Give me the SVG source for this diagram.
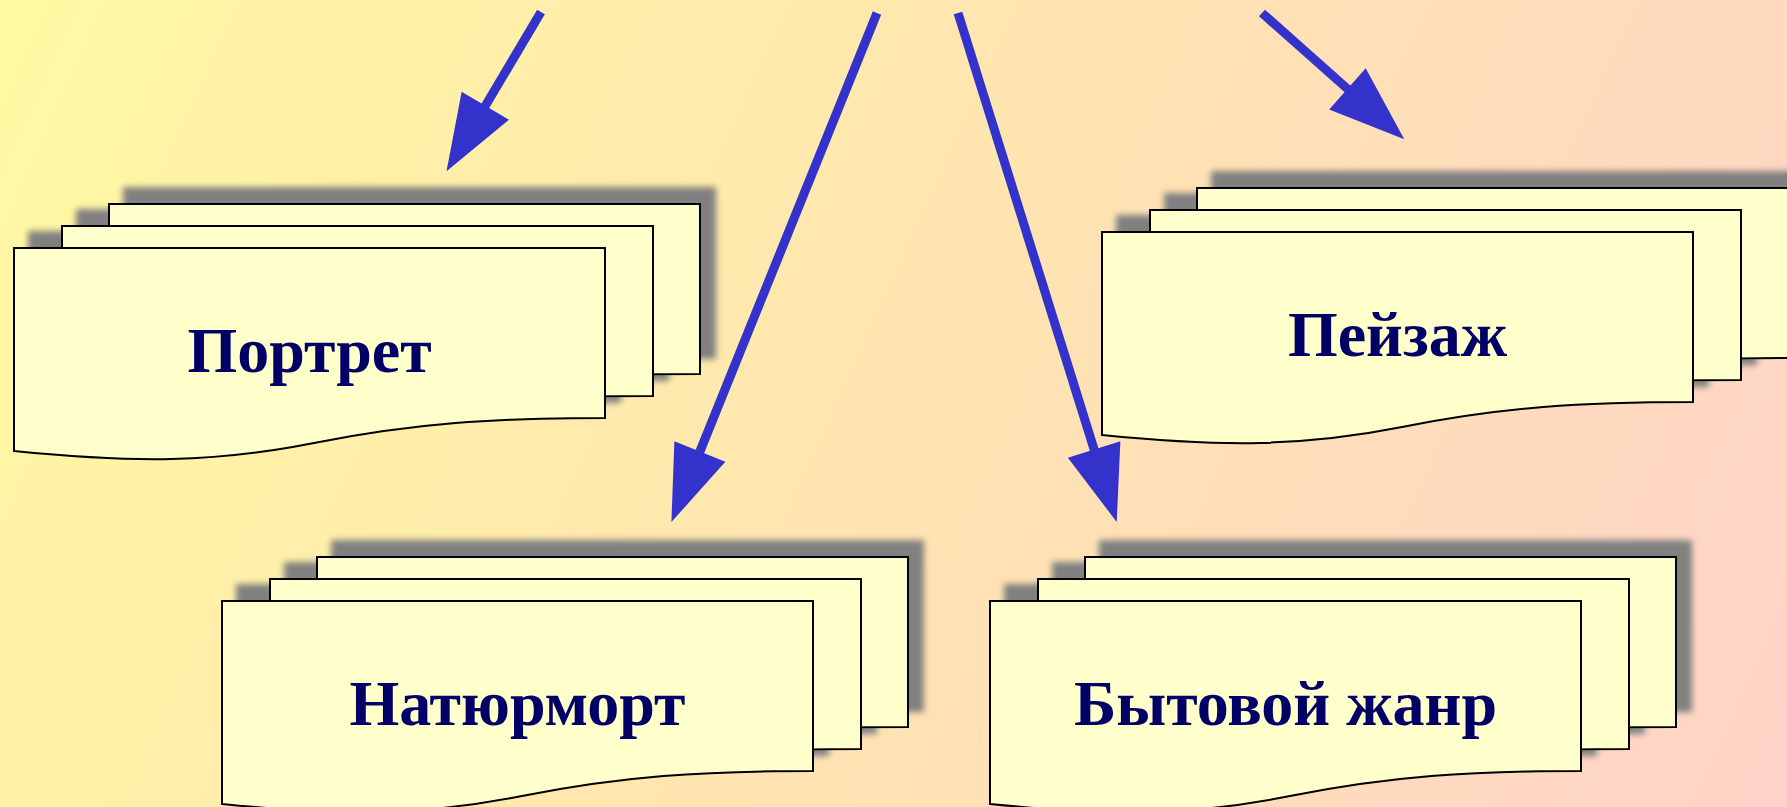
<svg xmlns="http://www.w3.org/2000/svg" xmlns:xlink="http://www.w3.org/1999/xlink" width="1787" height="807" viewBox="0 0 1787 807">
<style>
.sheet{fill:#FFFFCC;stroke:#000000;stroke-width:2;stroke-linejoin:miter}
.label{font-family:"Liberation Serif","Times New Roman",serif;font-weight:bold;font-size:64px;fill:#000066;text-anchor:middle}
.conn{stroke:#3333CC;stroke-width:9;fill:none;stroke-linecap:butt;marker-end:url(#ah)}
</style>
<defs>
<linearGradient id="bg" gradientUnits="userSpaceOnUse" x1="0" y1="0" x2="1787" y2="807">
<stop offset="0" stop-color="#FFF9A2"/>
<stop offset="0.5" stop-color="#FFE5B0"/>
<stop offset="1" stop-color="#FFD3C8"/>
</linearGradient>
<filter id="shadow" x="-10%" y="-20%" width="120%" height="140%">
<feGaussianBlur in="SourceAlpha" stdDeviation="3" result="b"/>
<feOffset in="b" dx="15" dy="-16" result="o"/>
<feFlood flood-color="#808080"/>
<feComposite in2="o" operator="in" result="s"/>
<feMerge><feMergeNode in="s"/><feMergeNode in="SourceGraphic"/></feMerge>
</filter>
<path id="sheet" d="M0,0 H591 V170 C480,170 400,175 300,195 C200,215 120,215 0,203 Z"/>
<marker id="ah" markerUnits="userSpaceOnUse" markerWidth="80" markerHeight="60" viewBox="0 -30 80 60" refX="1" refY="0" orient="auto" overflow="visible">
<path d="M0,-27.5 L76,0 L0,27.5 Z" fill="#3333CC"/>
</marker>
</defs>
<rect x="0" y="0" width="1787" height="807" fill="url(#bg)"/>

<g id="node-portret">
<g filter="url(#shadow)">
<use xlink:href="#sheet" href="#sheet" class="sheet" x="109" y="204"/>
<use xlink:href="#sheet" href="#sheet" class="sheet" x="62" y="226"/>
<use xlink:href="#sheet" href="#sheet" class="sheet" x="14" y="248"/>
</g>
<text class="label" x="309.5" y="372">Портрет</text>
</g>

<g id="node-peyzazh">
<g filter="url(#shadow)">
<use xlink:href="#sheet" href="#sheet" class="sheet" x="1197" y="188"/>
<use xlink:href="#sheet" href="#sheet" class="sheet" x="1150" y="210"/>
<use xlink:href="#sheet" href="#sheet" class="sheet" x="1102" y="232"/>
</g>
<text class="label" x="1397.5" y="356">Пейзаж</text>
</g>

<g id="node-natyurmort">
<g filter="url(#shadow)">
<use xlink:href="#sheet" href="#sheet" class="sheet" x="317" y="557"/>
<use xlink:href="#sheet" href="#sheet" class="sheet" x="270" y="579"/>
<use xlink:href="#sheet" href="#sheet" class="sheet" x="222" y="601"/>
</g>
<text class="label" x="517.5" y="725">Натюрморт</text>
</g>

<g id="node-bytovoy">
<g filter="url(#shadow)">
<use xlink:href="#sheet" href="#sheet" class="sheet" x="1085" y="557"/>
<use xlink:href="#sheet" href="#sheet" class="sheet" x="1038" y="579"/>
<use xlink:href="#sheet" href="#sheet" class="sheet" x="990" y="601"/>
</g>
<text class="label" x="1285.5" y="725">Бытовой жанр</text>
</g>

<g id="connectors">
<line class="conn" x1="541" y1="12" x2="484.8" y2="106.7"/>
<line class="conn" x1="877" y1="13" x2="699.5" y2="452.5"/>
<line class="conn" x1="958" y1="13" x2="1094.4" y2="450.4"/>
<line class="conn" x1="1262" y1="13" x2="1348.2" y2="89.5"/>
</g>
</svg>
